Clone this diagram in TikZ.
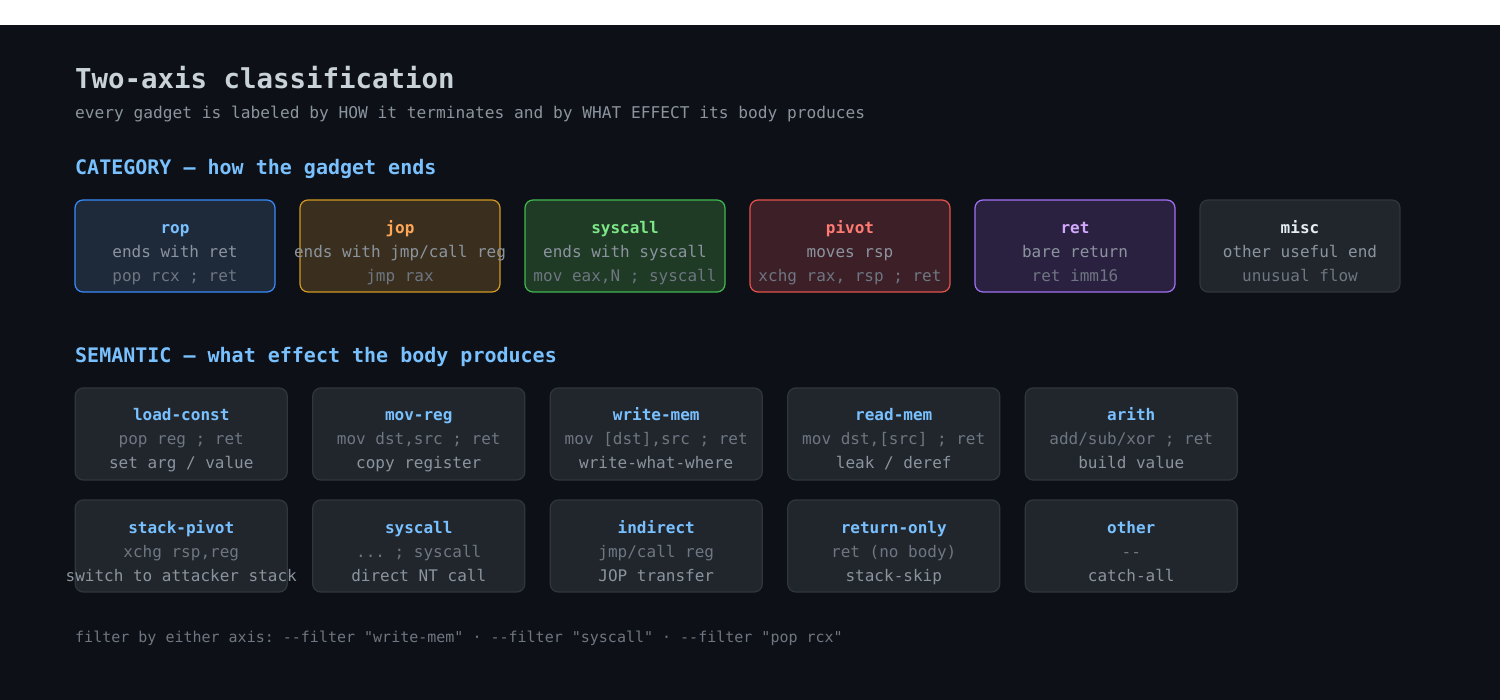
\documentclass[tikz,border=0pt]{standalone}
\usepackage{fontspec}
\setmonofont{DejaVu Sans Mono}
\usepackage{xcolor}
\usetikzlibrary{positioning}

\definecolor{bgdark}{HTML}{0D1117}
\definecolor{titletxt}{HTML}{C9D1D9}
\definecolor{subtxt}{HTML}{8B949E}
\definecolor{dimtxt}{HTML}{6E7681}
\definecolor{headtxt}{HTML}{79C0FF}
\definecolor{semfill}{HTML}{21262D}
\definecolor{semline}{HTML}{30363D}
\definecolor{ropfill}{HTML}{1E2A3A}
\definecolor{ropline}{HTML}{388BFD}
\definecolor{jopfill}{HTML}{3A2F1F}
\definecolor{jopline}{HTML}{D29922}
\definecolor{joplbl}{HTML}{FFA657}
\definecolor{sysfill}{HTML}{1F3A25}
\definecolor{sysline}{HTML}{3FB950}
\definecolor{syslbl}{HTML}{7EE787}
\definecolor{pivfill}{HTML}{3C1F27}
\definecolor{pivline}{HTML}{E5534B}
\definecolor{pivlbl}{HTML}{FF7B72}
\definecolor{retfill}{HTML}{2A2040}
\definecolor{retline}{HTML}{A371F7}
\definecolor{retlbl}{HTML}{D2A8FF}
\definecolor{misclbl}{HTML}{E6EDF3}

\begin{document}
\begin{tikzpicture}[x=1pt, y=-1pt, font=\ttfamily,
    gbox/.style={draw, rounded corners=8pt, line width=1.2pt, minimum width=200pt, minimum height=92pt, inner sep=0pt},
    semgbox/.style={gbox, draw=semline, fill=semfill, minimum width=212pt},
    gtext/.style={align=center, inner sep=0pt, font=\ttfamily\fontsize{16}{24}\selectfont},
    heading/.style={anchor=base west, inner sep=0pt, text=headtxt, font=\ttfamily\bfseries\fontsize{20}{24}\selectfont}]
    \useasboundingbox (0,0) rectangle (1500,700);
    \fill [white] (0,0) rectangle (1500,25);
    \fill [bgdark] (0,25) rectangle (1500,700);

    % Title block
    \node (title) at (75,89) [anchor=base west, inner sep=0pt, text=titletxt, font=\ttfamily\bfseries\fontsize{27.4}{32}\selectfont] {Two-axis classification};
    \node (subtitle) at (75,119) [anchor=base west, inner sep=0pt, text=subtxt, font=\ttfamily\fontsize{16.2}{20}\selectfont] {every gadget is labeled by HOW it terminates and by WHAT EFFECT its body produces};

    % Category axis
    \node (cathead) at (75,175) [heading] {CATEGORY — how the gadget ends};

    \node (rop) at (175,246) [gbox, draw=ropline, fill=ropfill] {};
    \node (jop) at (400,246) [gbox, draw=jopline, fill=jopfill] {};
    \node (sys) at (625,246) [gbox, draw=sysline, fill=sysfill] {};
    \node (piv) at (850,246) [gbox, draw=pivline, fill=pivfill] {};
    \node (ret) at (1075,246) [gbox, draw=retline, fill=retfill] {};
    \node (misc) at (1300,246) [gbox, draw=semline, fill=semfill] {};

    \node (roptxt) [gtext, below=17.5pt of rop.north] {{\bfseries\color{headtxt}\strut rop}\\ {\color{subtxt}ends with ret}\\ {\color{dimtxt}pop rcx ; ret\strut}};
    \node (joptxt) [gtext, below=17.5pt of jop.north] {{\bfseries\color{joplbl}\strut jop}\\ {\color{subtxt}ends with jmp/call reg}\\ {\color{dimtxt}jmp rax\strut}};
    \node (systxt) [gtext, below=17.5pt of sys.north] {{\bfseries\color{syslbl}\strut syscall}\\ {\color{subtxt}ends with syscall}\\ {\color{dimtxt}mov eax,N ; syscall\strut}};
    \node (pivtxt) [gtext, below=17.5pt of piv.north] {{\bfseries\color{pivlbl}\strut pivot}\\ {\color{subtxt}moves rsp}\\ {\color{dimtxt}xchg rax, rsp ; ret\strut}};
    \node (rettxt) [gtext, below=17.5pt of ret.north] {{\bfseries\color{retlbl}\strut ret}\\ {\color{subtxt}bare return}\\ {\color{dimtxt}ret imm16\strut}};
    \node (misctxt) [gtext, below=17.5pt of misc.north] {{\bfseries\color{misclbl}\strut misc}\\ {\color{subtxt}other useful end}\\ {\color{dimtxt}unusual flow\strut}};

    % Semantic axis
    \node (semhead) at (75,363) [heading] {SEMANTIC — what effect the body produces};

    \node (ldc) at (181.25,434) [semgbox] {};
    \node (movr) at (418.75,434) [semgbox] {};
    \node (wrm) at (656.25,434) [semgbox] {};
    \node (rdm) at (893.75,434) [semgbox] {};
    \node (arith) at (1131.25,434) [semgbox] {};
    \node (spiv) at (181.25,546) [semgbox] {};
    \node (ssys) at (418.75,546) [semgbox] {};
    \node (indir) at (656.25,546) [semgbox] {};
    \node (retonly) at (893.75,546) [semgbox] {};
    \node (other) at (1131.25,546) [semgbox] {};

    \node (ldctxt) [gtext, below=16.5pt of ldc.north] {{\bfseries\color{headtxt}\strut load-const}\\ {\color{dimtxt}pop reg ; ret}\\ {\color{subtxt}set arg / value\strut}};
    \node (movrtxt) [gtext, below=16.5pt of movr.north] {{\bfseries\color{headtxt}\strut mov-reg}\\ {\color{dimtxt}mov dst,src ; ret}\\ {\color{subtxt}copy register\strut}};
    \node (wrmtxt) [gtext, below=16.5pt of wrm.north] {{\bfseries\color{headtxt}\strut write-mem}\\ {\color{dimtxt}mov [dst],src ; ret}\\ {\color{subtxt}write-what-where\strut}};
    \node (rdmtxt) [gtext, below=16.5pt of rdm.north] {{\bfseries\color{headtxt}\strut read-mem}\\ {\color{dimtxt}mov dst,[src] ; ret}\\ {\color{subtxt}leak / deref\strut}};
    \node (arithtxt) [gtext, below=16.5pt of arith.north] {{\bfseries\color{headtxt}\strut arith}\\ {\color{dimtxt}add/sub/xor ; ret}\\ {\color{subtxt}build value\strut}};
    \node (spivtxt) [gtext, below=17.5pt of spiv.north] {{\bfseries\color{headtxt}\strut stack-pivot}\\ {\color{dimtxt}xchg rsp,reg}\\ {\color{subtxt}switch to attacker stack\strut}};
    \node (ssystxt) [gtext, below=17.5pt of ssys.north] {{\bfseries\color{headtxt}\strut syscall}\\ {\color{dimtxt}... ; syscall}\\ {\color{subtxt}direct NT call\strut}};
    \node (indirtxt) [gtext, below=17.5pt of indir.north] {{\bfseries\color{headtxt}\strut indirect}\\ {\color{dimtxt}jmp/call reg}\\ {\color{subtxt}JOP transfer\strut}};
    \node (retonlytxt) [gtext, below=17.5pt of retonly.north] {{\bfseries\color{headtxt}\strut return-only}\\ {\color{dimtxt}ret (no body)}\\ {\color{subtxt}stack-skip\strut}};
    \node (othertxt) [gtext, below=17.5pt of other.north] {{\bfseries\color{headtxt}\strut other}\\ {\color{dimtxt}--}\\ {\color{subtxt}catch-all\strut}};

    % Footer
    \node (footer) at (75,642) [anchor=base west, inner sep=0pt, text=dimtxt, font=\ttfamily\fontsize{15}{18}\selectfont] {filter by either axis: --filter "write-mem" · --filter "syscall" · --filter "pop rcx"};
\end{tikzpicture}
\end{document}
